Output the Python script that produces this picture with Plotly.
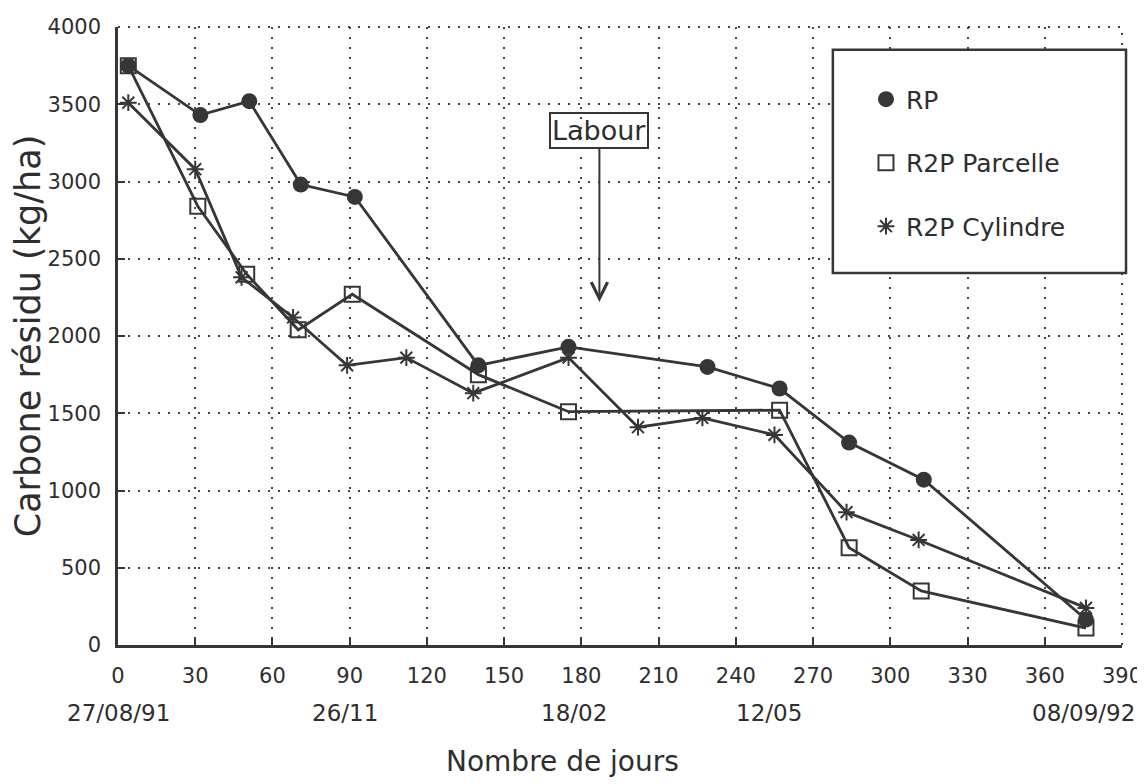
import plotly.graph_objects as go

# ---- data ----
days_rp = [4, 32, 51, 71, 92, 140, 175, 229, 257, 284, 313, 376]
rp = [3750, 3430, 3520, 2980, 2900, 1810, 1930, 1800, 1660, 1310, 1070, 165]

days_parc = [4, 31, 50, 70, 91, 140, 175, 257, 284, 312, 376]
parc = [3750, 2840, 2400, 2040, 2270, 1750, 1510, 1520, 630, 350, 110]

days_cyl = [4, 30, 48, 68, 89, 112, 138, 175, 202, 227, 255, 283, 311, 376]
cyl = [3510, 3080, 2380, 2120, 1810, 1860, 1630, 1860, 1410, 1470, 1360, 860, 680, 240]

series_names = ["RP", "R2P Parcelle", "R2P Cylindre"]

x_ticks = [0, 30, 60, 90, 120, 150, 180, 210, 240, 270, 300, 330, 360, 390]
y_ticks = [0, 500, 1000, 1500, 2000, 2500, 3000, 3500, 4000]

date_days = [0, 88, 177, 253, 375]
date_labels = ["27/08/91", "26/11", "18/02", "12/05", "08/09/92"]

x_title = "Nombre de jours"
y_title = "Carbone résidu (kg/ha)"

labour_day = 187
labour_tip = 2220
labour_text_y = 3330

# ---- style ----
INK = "#363636"
TXT = "#2e2e2e"
FONT = "DejaVu Sans"

fig = go.Figure()

marker_styles = [
    dict(symbol="circle", size=16, color=INK, line=dict(color=INK, width=0)),
    dict(symbol="square-open", size=15, color=INK, line=dict(color=INK, width=2)),
    dict(symbol="asterisk-open", size=14, color=INK, line=dict(color=INK, width=2)),
]

for xs, ys, name, ms in zip([days_rp, days_parc, days_cyl], [rp, parc, cyl],
                            series_names, marker_styles):
    fig.add_trace(go.Scatter(
        x=xs, y=ys, mode="lines+markers", name=name,
        line=dict(color=INK, width=2.8),
        marker=ms, showlegend=False, cliponaxis=False,
    ))
    # legend entry (marker only)
    fig.add_trace(go.Scatter(
        x=[None], y=[None], mode="markers", name=name,
        marker=ms, showlegend=True, legendgroup=name,
    ))

axis_common = dict(
    showline=True, linecolor=INK, linewidth=2.5,
    showgrid=True, gridcolor="#444444", gridwidth=2, griddash="2px,8px",
    ticks="inside", ticklen=7, tickwidth=2, tickcolor=INK,
    zeroline=False, mirror=False, automargin=False,
    tickfont=dict(family=FONT, size=21, color=TXT),
)

fig.update_xaxes(
    range=[0, 390], tickvals=x_ticks, ticktext=[str(v) for v in x_ticks],
    ticklabelstandoff=10,
    **axis_common,
)
fig.update_yaxes(
    range=[0, 4000], tickvals=y_ticks, ticktext=[str(v) for v in y_ticks],
    ticklabelstandoff=10,
    title=dict(text=y_title, font=dict(family=FONT, size=35, color=TXT), standoff=4),
    **axis_common,
)

shapes = [
    # dotted top and right borders
    dict(type="line", xref="paper", yref="paper", x0=0, x1=1, y0=1, y1=1,
         line=dict(color="#444444", width=2, dash="2px,8px")),
    dict(type="line", xref="paper", yref="paper", x0=1, x1=1, y0=0, y1=1,
         line=dict(color="#444444", width=2, dash="2px,8px")),
    # legend frame
    dict(type="rect", xref="paper", yref="paper", x0=0.712, x1=1.004, y0=0.602, y1=0.963,
         fillcolor="white", line=dict(color=INK, width=2.5), layer="above"),
]

annotations = []
for d, lab in zip(date_days, date_labels):
    annotations.append(dict(
        x=d, y=-0.11, xref="x", yref="paper", text=lab, showarrow=False,
        xanchor="center", yanchor="middle",
        font=dict(family=FONT, size=23, color=TXT),
    ))

# x-axis title (sits left of the plot centre in the original)
annotations.append(dict(
    x=0.443, y=-0.189, xref="paper", yref="paper", text=x_title, showarrow=False,
    xanchor="center", yanchor="middle",
    font=dict(family=FONT, size=28, color=TXT),
))

annotations.append(dict(
    x=labour_day, y=labour_tip, xref="x", yref="y",
    ax=labour_day, ay=labour_text_y, axref="x", ayref="y",
    text="Labour", showarrow=True, arrowhead=5, arrowsize=1.6, arrowwidth=2,
    arrowcolor=INK, bordercolor=INK, borderwidth=2, borderpad=1,
    font=dict(family=FONT, size=27, color=TXT),
))

fig.update_layout(
    width=1137, height=776,
    margin=dict(l=110, r=23, t=19, b=139),
    paper_bgcolor="white", plot_bgcolor="white",
    showlegend=True,
    legend=dict(x=0.745, y=0.92, xanchor="left", yanchor="top",
                bgcolor="rgba(0,0,0,0)", borderwidth=0,
                font=dict(family=FONT, size=25, color=TXT),
                tracegroupgap=28, itemwidth=30),
    shapes=shapes,
    annotations=annotations,
)

fig.write_html("out.html")
